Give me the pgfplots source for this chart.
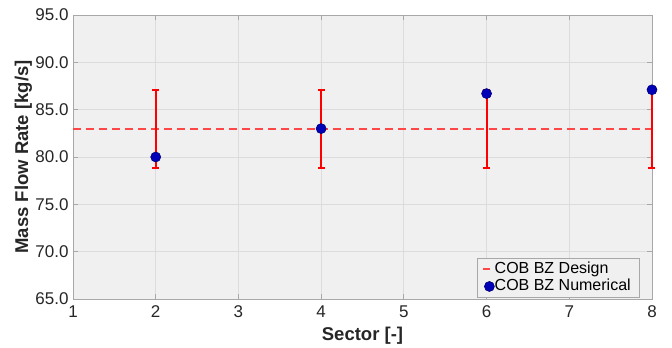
\documentclass[border=0pt]{standalone}
\usepackage{fontspec}
\setmainfont{Liberation Sans}
\usepackage{pgfplots}
\usepackage{pgfplotstable}
\pgfplotsset{compat=1.18}
\definecolor{bggray}{HTML}{F0F0F0}
\definecolor{gridgray}{HTML}{DCDCDC}
\definecolor{axisgray}{HTML}{A8A8A8}
\definecolor{ticktext}{HTML}{262626}
\definecolor{designred}{rgb}{1,0.28,0.28}
\definecolor{numblue}{rgb}{0,0,0.72}
\definecolor{numedge}{rgb}{0,0,0.45}
\pgfplotstableread{
x y ep em
2 80.0 7.1 1.2
4 83.0 4.1 4.2
6 86.7 0.4 7.9
8 87.1 0.0 8.3
}\numdata
\begin{document}
\begin{tikzpicture}
\useasboundingbox (-73pt,-49pt) rectangle (599pt,299pt);
\begin{axis}[
  at={(0,0)}, anchor=south west,
  scale only axis, width=579pt, height=284pt,
  clip=false,
  xmin=1, xmax=8, ymin=65, ymax=95,
  xtick={1,2,...,8}, ytick={65,70,...,95},
  /pgf/number format/assume math mode=true,
  yticklabel style={/pgf/number format/fixed, /pgf/number format/fixed zerofill, /pgf/number format/precision=1, xshift=-1pt},
  tick label style={font=\fontsize{17}{17}\selectfont, color=ticktext},
  xticklabel style={yshift=-3pt},
  xlabel={Sector [-]}, ylabel={Mass Flow Rate [kg/s]},
  every axis x label/.style={at={(axis description cs:0.5,-0.146)}, anchor=base,
    font=\fontsize{18.5}{18.5}\selectfont\bfseries, color=ticktext},
  every axis y label/.style={at={(axis description cs:-0.0777,0.5)}, anchor=base, rotate=90,
    font=\fontsize{18.5}{18.5}\selectfont\bfseries, color=ticktext},
  grid=major, grid style={gridgray, line width=0.8pt},
  axis background/.style={fill=bggray},
  axis line style={axisgray, line width=0.8pt},
  tick style={axisgray, line width=0.8pt},
  tick align=inside, major tick length=5pt,
  legend style={at={(0.9795,0.004)}, anchor=south east, draw=axisgray, fill=bggray,
    font=\fontsize{16}{16}\selectfont, inner xsep=4pt, inner ysep=2.5pt, row sep=0pt,
    nodes={inner xsep=0pt, inner ysep=1pt, text height=11.5pt, text depth=3.5pt}, line width=0.8pt},
  legend cell align=left,
]
\addplot[designred, line width=2pt, dash pattern=on 8pt off 5pt,
  legend image code/.code={\path[draw=none, fill=none] (-2pt,-5pt) rectangle (11.5pt,5pt); \draw[designred, solid, line width=2pt] (0pt,0pt) -- (7.5pt,0pt);}]
  coordinates {(1,83) (8,83)};
\addlegendentry{COB BZ Design\hspace*{5pt}}
\addplot[draw=none, mark=none, forget plot,
  error bars/.cd, y dir=both, y explicit,
  error bar style={draw=red, line width=2pt},
  error mark options={rotate=90, draw=red, line width=2pt, mark size=3.5pt}]
  table[x=x, y=y, y error plus=ep, y error minus=em] {\numdata};
\addplot[only marks, mark=*, mark size=5pt, mark options={fill=numblue, draw=numedge, line width=0.6pt},
  legend image code/.code={\path[draw=none, fill=none] (-2pt,-5pt) rectangle (11.5pt,5pt); \fill[numblue, draw=numedge, line width=0.6pt] (6.5pt,0pt) circle (5pt);}]
  table[x=x, y=y] {\numdata};
\addlegendentry{COB BZ Numerical\hspace*{5pt}}
\end{axis}
\end{tikzpicture}
\end{document}
